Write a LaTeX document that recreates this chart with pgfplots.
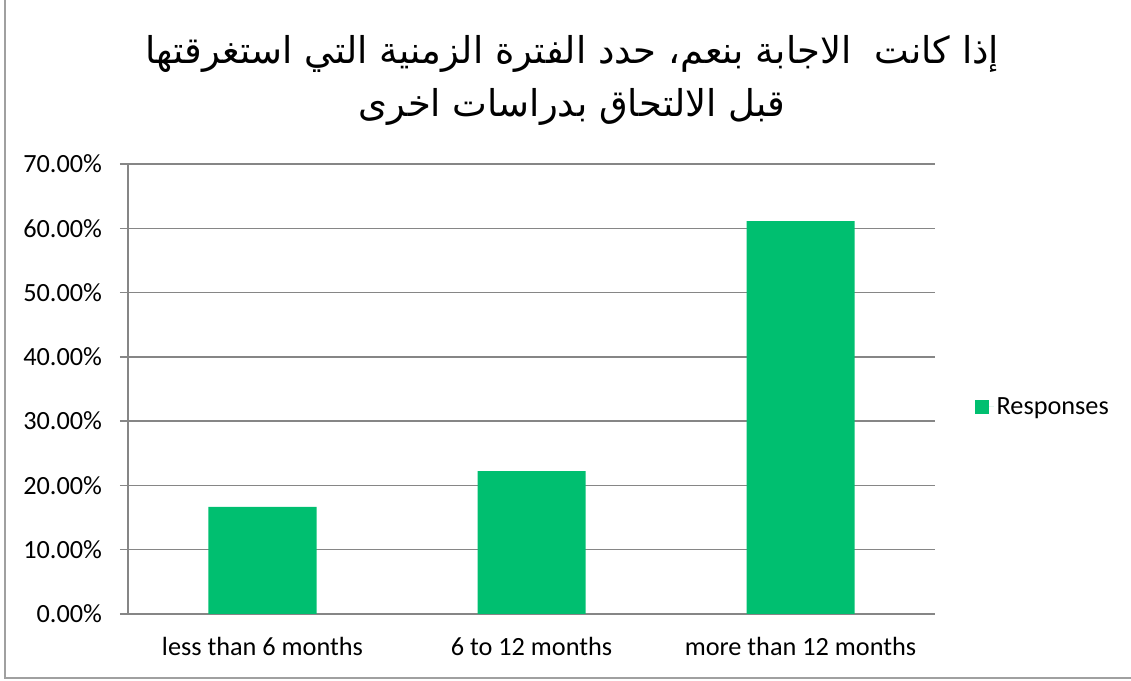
\documentclass[border=0pt]{standalone}
\usepackage{fontspec}
\setmainfont{Carlito}
\newfontfamily\arabicfont[Script=Arabic]{DejaVu Sans}
\TeXXeTstate=1
\usepackage{pgfplots}
\pgfplotsset{compat=1.18}
\definecolor{bargreen}{RGB}{0,191,112}
\definecolor{gridgray}{RGB}{134,134,134}
\definecolor{framegray}{RGB}{160,160,160}

\begin{document}
\begin{tikzpicture}[x=1pt,y=1pt]
\useasboundingbox (-96,-50.25) rectangle (752.25,460.5);
\draw[framegray, line width=0.8pt] (-92.25,-48) rectangle (770,480);
\node[align=center, font=\arabicfont\fontsize{27.7}{40}\selectfont] at (333,400)
  {\beginR إذا كانت\ \ الاجابة بنعم، حدد الفترة الزمنية التي استغرقتها\endR\\
   \beginR قبل الالتحاق بدراسات اخرى\endR};
\begin{axis}[
  at={(0,0)}, anchor=south west,
  scale only axis,
  width=605.25pt, height=337.5pt,
  ybar, bar width=81pt,
  xmin=-0.5, xmax=2.5,
  ymin=0, ymax=70,
  xtick={0,1,2},
  xticklabels={less than 6 months,6 to 12 months,more than 12 months},
  major x tick style={draw=none},
  extra x ticks={-0.5,0.5,1.5,2.5},
  extra x tick labels={},
  extra x tick style={grid=none, major tick length=6pt, tick style={draw=gridgray, line width=1pt}},
  ytick={0,10,...,70},
  yticklabel={\pgfmathprintnumber[fixed,fixed zerofill,precision=2]{\tick}\%},
  /pgf/number format/assume math mode=true,
  ymajorgrids,
  grid style={gridgray, line width=1pt},
  axis x line*=bottom, axis y line*=left,
  axis line style={gridgray, line width=1pt, -},
  tick align=outside,
  major tick length=6pt,
  ytick style={gridgray, line width=1pt},
  ticklabel style={font=\fontsize{19.7}{23}\selectfont, text=black},
  yticklabel style={xshift=-10pt},
  xticklabel style={yshift=-8pt},
  legend style={at={(rel axis cs:1.0496,0.46)}, anchor=west, draw=none,
    font=\fontsize{19.7}{23}\selectfont, inner sep=0pt},
  legend image code/.code={\fill[#1] (0pt,-5pt) rectangle (10.5pt,5pt);
    \path (0pt,0pt) -- (14pt,0pt);},
]
\addplot[fill=bargreen, draw=none] coordinates {(0,16.67) (1,22.22) (2,61.11)};
\legend{Responses}
\end{axis}
\end{tikzpicture}
\end{document}
